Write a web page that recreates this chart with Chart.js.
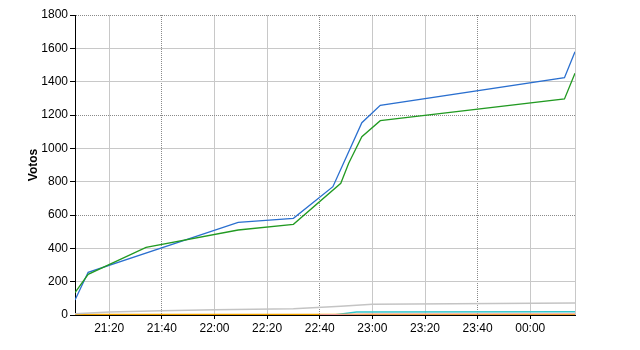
<!doctype html>
<html>

<head>
    <title>Votos</title>
    <script src="https://cdn.jsdelivr.net/npm/chart.js"></script>
    <style>
        body {
            margin: 0;
            background-color: white;
            font-family: "Liberation Sans", Arial
        }
    </style>
</head>

<body>
    <canvas id="chart" width="640" height="350"></canvas>
    <script>
        // time range of the x axis (HH:MM, past midnight wraps)
        const xStart = '21:07'
        const xEnd = '00:17'

        const blueTimes = ['21:07', '21:12', '22:09', '22:30', '22:45', '22:56', '23:03', '00:13', '00:17']
        const blueVotes = [90, 256, 556, 580, 770, 1154, 1258, 1424, 1580]

        const greenTimes = ['21:07', '21:12', '21:34', '22:09', '22:30', '22:48', '22:51', '22:56', '23:03', '00:13', '00:17']
        const greenVotes = [134, 244, 406, 510, 544, 790, 910, 1070, 1166, 1296, 1450]

        const grayTimes = ['21:07', '21:20', '21:40', '22:00', '22:30', '22:48', '23:00', '00:17']
        const grayVotes = [8, 18, 26, 32, 38, 52, 64, 72]

        const tealTimes = ['21:07', '22:46', '22:54', '00:17']
        const tealVotes = [0, 2, 18, 20]

        const orangeTimes = ['21:07', '00:17']
        const orangeVotes = [3, 3]

        const pinkTimes = ['22:40', '23:00', '00:17']
        const pinkVotes = [2, 6, 7]

        // minutes since 00:00 of the first day
        const toMin = t => {
            const [h, m] = t.split(':').map(Number)
            return (h < 12 ? h + 24 : h) * 60 + m
        }
        const pts = (times, votes) => times.map((t, i) => ({ x: toMin(t), y: votes[i] }))
        const fmt = v => {
            const h = Math.floor(v / 60) % 24
            const m = Math.round(v % 60)
            return String(h).padStart(2, '0') + ':' + String(m).padStart(2, '0')
        }

        const xMin = toMin(xStart)
        const xMax = toMin(xEnd)

        const line = (times, votes, color, width) => ({
            data: pts(times, votes),
            borderColor: color,
            borderWidth: width,
            pointRadius: 0,
            tension: 0
        })

        const font = { family: '"Liberation Sans", Arial', size: 12 }

        new Chart(document.getElementById('chart'), {
            type: 'line',
            data: {
                datasets: [
                    line(grayTimes, grayVotes, '#c4c4c4', 1.5),
                    line(pinkTimes, pinkVotes, '#f4a0a0', 1),
                    line(orangeTimes, orangeVotes, '#f5a500', 1.5),
                    line(tealTimes, tealVotes, '#33c8cc', 1.5),
                    line(greenTimes, greenVotes, '#229a22', 1.3),
                    line(blueTimes, blueVotes, '#2a6fcf', 1.3)
                ]
            },
            options: {
                responsive: false,
                animation: false,
                layout: { padding: { left: 0, right: 65, top: 15, bottom: 0 } },
                scales: {
                    x: {
                        type: 'linear',
                        min: xMin,
                        max: xMax,
                        afterBuildTicks: s => { s.ticks.push({ value: xMax }) },
                        afterFit: s => { s.height = 35 },
                        ticks: {
                            stepSize: 20,
                            includeBounds: false,
                            autoSkip: false,
                            maxRotation: 0,
                            padding: 2,
                            color: '#000',
                            font: font,
                            callback: v => v % 20 === 0 ? fmt(v) : ''
                        },
                        grid: {
                            color: c => c.tick && c.tick.value % 60 === 40 ? '#8a8a8a' : '#c8c8c8',
                            tickColor: c => c.tick && c.tick.value % 20 !== 0 ? 'rgba(0,0,0,0)' : '#000',
                            tickLength: 4,
                            lineWidth: 1
                        },
                        border: {
                            color: '#000',
                            width: 1,
                            dash: c => c.tick && c.tick.value % 60 === 40 ? [1, 1] : []
                        }
                    },
                    y: {
                        min: 0,
                        max: 1800,
                        afterFit: s => { s.width = 75 },
                        ticks: {
                            stepSize: 200,
                            padding: 2,
                            color: '#000',
                            font: font,
                            callback: v => String(v)
                        },
                        grid: {
                            color: c => c.tick && c.tick.value % 600 === 0 ? '#8a8a8a' : '#c8c8c8',
                            tickColor: '#000',
                            tickLength: 5,
                            lineWidth: 1
                        },
                        border: {
                            color: '#000',
                            width: 1,
                            dash: c => c.tick && c.tick.value % 600 === 0 ? [1, 1] : []
                        },
                        title: {
                            display: true,
                            text: 'Votos',
                            color: '#000',
                            font: { family: '"Liberation Sans", Arial', size: 12, weight: 'bold' },
                            padding: { top: 26, bottom: 0 }
                        }
                    }
                },
                plugins: {
                    legend: { display: false },
                    tooltip: { enabled: false }
                }
            }
        })
    </script>
</body>

</html>
